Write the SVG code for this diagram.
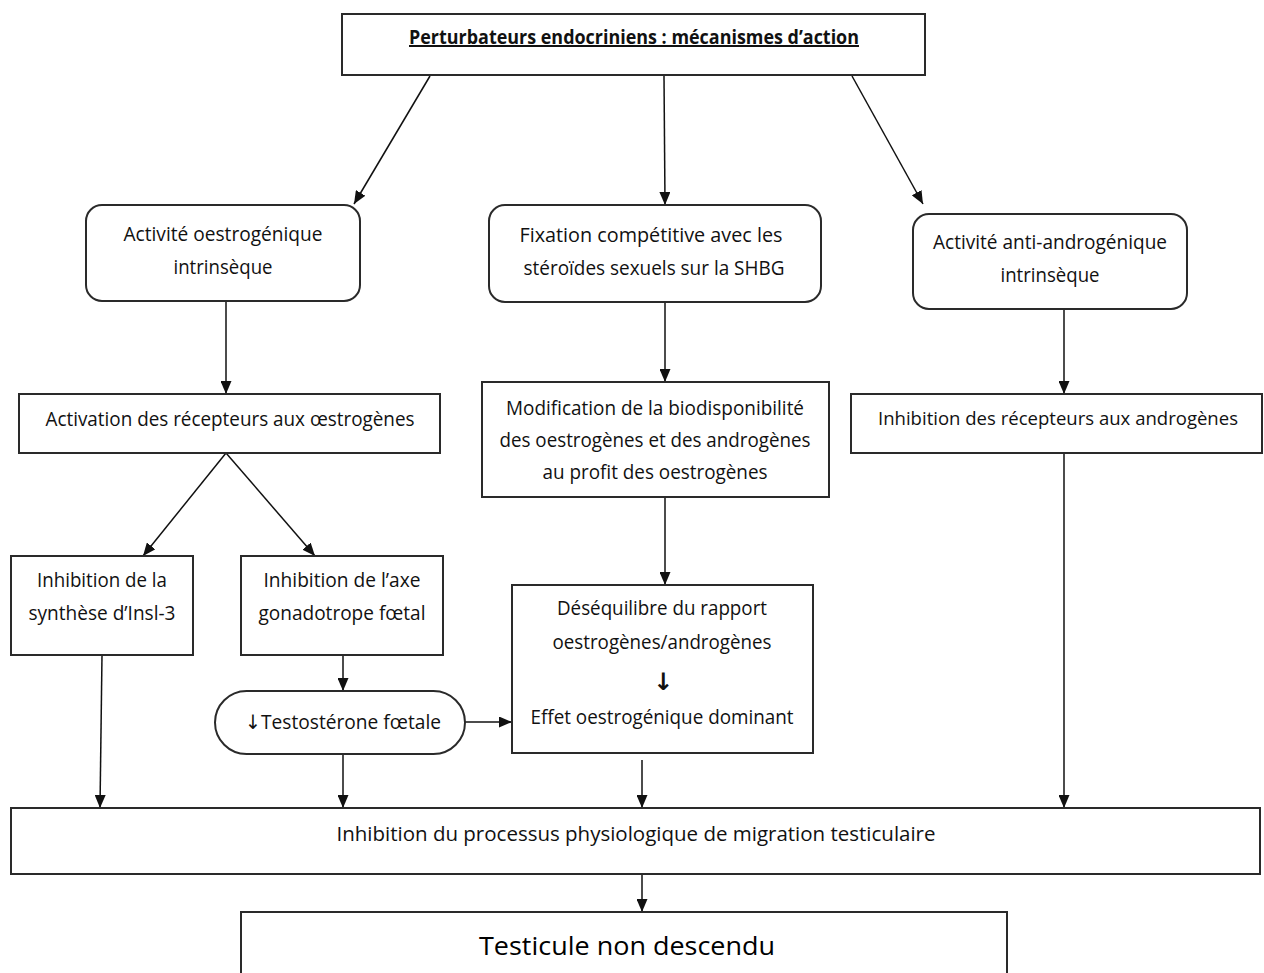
<svg xmlns="http://www.w3.org/2000/svg" width="1264" height="973" viewBox="0 0 1264 973">
<style>
  .box { fill: #ffffff; stroke: #2a2a2a; stroke-width: 2; }
  .t { font-family: "Open Sans", "Noto Sans", "Liberation Sans", sans-serif; font-size: 20px; fill: #111; text-anchor: middle; }
  .title { font-weight: bold; text-decoration: underline; font-size: 20px; }
  .big { font-size: 25px; fill: #000; }
  .sym { font-family: "DejaVu Sans", sans-serif; }
  .conn { stroke: #111; stroke-width: 1.5; fill: none; }
  .arr { marker-end: url(#ah); }
</style>
<defs>
  <marker id="ah" markerUnits="userSpaceOnUse" markerWidth="13" markerHeight="11" refX="13" refY="5.5" orient="auto">
    <path d="M0,0 L13,5.5 L0,11 z" fill="#111"/>
  </marker>
</defs>
<rect width="1264" height="973" fill="#ffffff"/>

<g id="connectors">
  <line class="conn arr" x1="430" y1="76" x2="354" y2="204"/>
  <line class="conn arr" x1="664" y1="76" x2="665" y2="205"/>
  <line class="conn arr" x1="852" y1="76" x2="923" y2="204"/>
  <line class="conn arr" x1="226" y1="301" x2="226" y2="394"/>
  <line class="conn arr" x1="226" y1="453" x2="143" y2="556"/>
  <line class="conn arr" x1="226" y1="453" x2="315" y2="556"/>
  <line class="conn arr" x1="665" y1="302" x2="665" y2="382"/>
  <line class="conn arr" x1="1064" y1="309" x2="1064" y2="394"/>
  <line class="conn arr" x1="665" y1="497" x2="665" y2="585"/>
  <line class="conn arr" x1="102" y1="655" x2="100" y2="808"/>
  <line class="conn arr" x1="343" y1="655" x2="343" y2="691"/>
  <line class="conn arr" x1="343" y1="754" x2="343" y2="808"/>
  <line class="conn arr" x1="465" y1="722" x2="512" y2="722"/>
  <line class="conn arr" x1="642" y1="760" x2="642" y2="808"/>
  <line class="conn arr" x1="1064" y1="453" x2="1064" y2="808"/>
  <line class="conn arr" x1="642" y1="874" x2="642" y2="912"/>
</g>

<g id="n-title">
  <rect class="box" x="342" y="14" width="583" height="61"/>
  <text class="t title" x="634" y="44" textLength="450" lengthAdjust="spacingAndGlyphs">Perturbateurs endocriniens : mécanismes d’action</text>
</g>

<g id="n-oestro">
  <rect class="box" x="86" y="205" width="274" height="96" rx="16"/>
  <text class="t" x="223" y="241" textLength="199" lengthAdjust="spacingAndGlyphs">Activité oestrogénique</text>
  <text class="t" x="223" y="274" textLength="99" lengthAdjust="spacingAndGlyphs">intrinsèque</text>
</g>

<g id="n-fixation">
  <rect class="box" x="489" y="205" width="332" height="97" rx="16"/>
  <text class="t" x="651" y="242" textLength="263" lengthAdjust="spacingAndGlyphs">Fixation compétitive avec les</text>
  <text class="t" x="654" y="275" textLength="261" lengthAdjust="spacingAndGlyphs">stéroïdes sexuels  sur la SHBG</text>
</g>

<g id="n-antiandro">
  <rect class="box" x="913" y="214" width="274" height="95" rx="16"/>
  <text class="t" x="1050" y="249" textLength="234" lengthAdjust="spacingAndGlyphs">Activité anti-androgénique</text>
  <text class="t" x="1050" y="282" textLength="99" lengthAdjust="spacingAndGlyphs">intrinsèque</text>
</g>

<g id="n-activation">
  <rect class="box" x="19" y="394" width="421" height="59"/>
  <text class="t" x="230" y="426" textLength="369" lengthAdjust="spacingAndGlyphs">Activation des récepteurs aux œstrogènes</text>
</g>

<g id="n-modif">
  <rect class="box" x="482" y="382" width="347" height="115"/>
  <text class="t" x="655" y="415" textLength="298" lengthAdjust="spacingAndGlyphs">Modification de la biodisponibilité</text>
  <text class="t" x="655" y="447" textLength="311" lengthAdjust="spacingAndGlyphs">des oestrogènes et des androgènes</text>
  <text class="t" x="655" y="479" textLength="225" lengthAdjust="spacingAndGlyphs">au profit des oestrogènes</text>
</g>

<g id="n-inhib-andro">
  <rect class="box" x="851" y="394" width="411" height="59"/>
  <text class="t" x="1058" y="425" style="font-size:18.5px" textLength="360" lengthAdjust="spacingAndGlyphs">Inhibition des récepteurs aux androgènes</text>
</g>

<g id="n-insl3">
  <rect class="box" x="11" y="556" width="182" height="99"/>
  <text class="t" x="102" y="587" textLength="130" lengthAdjust="spacingAndGlyphs">Inhibition de la</text>
  <text class="t" x="102" y="620" textLength="147" lengthAdjust="spacingAndGlyphs">synthèse d’Insl-3</text>
</g>

<g id="n-axe">
  <rect class="box" x="241" y="556" width="202" height="99"/>
  <text class="t" x="342" y="587" textLength="157" lengthAdjust="spacingAndGlyphs">Inhibition de l’axe</text>
  <text class="t" x="342" y="620" textLength="167" lengthAdjust="spacingAndGlyphs">gonadotrope fœtal</text>
</g>

<g id="n-testo">
  <rect class="box" x="215" y="691" width="250" height="63" rx="31.5"/>
  <text class="t" x="343" y="729" textLength="196" lengthAdjust="spacingAndGlyphs"><tspan class="sym">↓</tspan>Testostérone fœtale</text>
</g>

<g id="n-desequilibre">
  <rect class="box" x="512" y="585" width="301" height="168"/>
  <text class="t" x="662" y="615" textLength="210" lengthAdjust="spacingAndGlyphs">Déséquilibre du rapport</text>
  <text class="t" x="662" y="649" textLength="219" lengthAdjust="spacingAndGlyphs">oestrogènes/androgènes</text>
  <text class="t sym" x="663" y="690" style="font-weight:bold;font-size:24px">↓</text>
  <text class="t" x="662" y="724" textLength="263" lengthAdjust="spacingAndGlyphs">Effet oestrogénique dominant</text>
</g>

<g id="n-migration">
  <rect class="box" x="11" y="808" width="1249" height="66"/>
  <text class="t" x="636" y="841" textLength="599" lengthAdjust="spacingAndGlyphs">Inhibition du processus physiologique de migration testiculaire</text>
</g>

<g id="n-testicule">
  <rect class="box" x="241" y="912" width="766" height="80"/>
  <text class="t big" x="627" y="955" textLength="296" lengthAdjust="spacingAndGlyphs">Testicule non descendu</text>
</g>
</svg>
